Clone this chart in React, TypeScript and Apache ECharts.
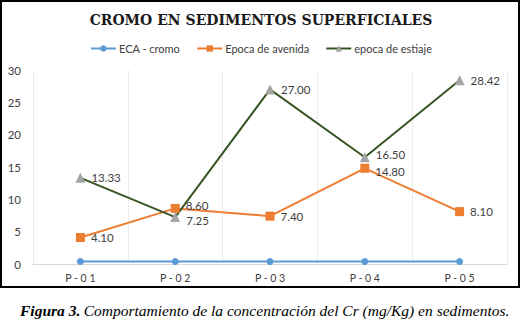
import React, { useEffect, useRef } from "react";
import * as echarts from "echarts";

const categories = ["P-01", "P-02", "P-03", "P-04", "P-05"];
const ecaValues = [0.4, 0.4, 0.4, 0.4, 0.4];
const avenidaValues = [4.1, 8.6, 7.4, 14.8, 8.1];
const estiajeValues = [13.33, 7.25, 27.0, 16.5, 28.42];
const yTicks = { min: 0, max: 30, interval: 5 };

// small vertical nudges for labels that sit next to each other
const avenidaLabelShift = [0, -3, 0, 3, 0];
const estiajeLabelShift = [0, 3, 0, -3, 0];

export default function App() {
  const ref = useRef<HTMLDivElement>(null);
  useEffect(() => {
    if (!ref.current) return;
    const chart = echarts.init(ref.current, null, { renderer: "svg" });
    const labelStyle = {
      show: true,
      position: "right" as const,
      distance: 6,
      color: "#404040",
      fontSize: 11.5,
      fontFamily: "Lato",
      formatter: (p: any) => Number(p.value).toFixed(2),
    };
    const withShift = (vals: number[], shifts: number[]) =>
      vals.map((v, i) => ({ value: v, label: { offset: [0, shifts[i]] } }));
    chart.setOption({
      animation: false,
      backgroundColor: "#ffffff",
      title: {
        text: "CROMO EN SEDIMENTOS SUPERFICIALES",
        left: "center",
        top: 8,
        textStyle: {
          fontFamily: "DejaVu Serif",
          fontWeight: "bold",
          fontSize: 14,
          color: "#1a1a1a",
        },
      },
      legend: {
        top: 38,
        left: "center",
        itemWidth: 25,
        itemHeight: 8,
        itemGap: 16,
        textStyle: { fontFamily: "Lato", fontSize: 11, color: "#404040", padding: [0, 0, 0, -2] },
        data: ["ECA - cromo", "Epoca de avenida", "epoca de estiaje"],
      },
      grid: { left: 33, right: 15, top: 70, bottom: 55, containLabel: false },
      xAxis: {
        type: "category",
        data: categories,
        boundaryGap: true,
        axisLine: { lineStyle: { color: "#d9d9d9" } },
        axisTick: { show: false },
        axisLabel: {
          color: "#404040",
          fontSize: 10.5,
          fontFamily: "Lato",
          margin: 8,
          formatter: (v: string) => v.split("").join(" "),
        },
        splitLine: {
          show: true,
          lineStyle: { color: "#d9d9d9", type: "dotted", width: 1 },
        },
      },
      yAxis: {
        type: "value",
        min: yTicks.min,
        max: yTicks.max,
        interval: yTicks.interval,
        axisLine: { show: false },
        axisTick: { show: false },
        splitLine: { show: false },
        axisLabel: { color: "#404040", fontSize: 11.5, fontFamily: "Lato", margin: 12 },
      },
      series: [
        {
          name: "ECA - cromo",
          type: "line",
          data: ecaValues,
          symbol: "circle",
          symbolSize: 7,
          itemStyle: { color: "#5b9bd5" },
          lineStyle: { color: "#5b9bd5", width: 2 },
        },
        {
          name: "Epoca de avenida",
          type: "line",
          data: withShift(avenidaValues, avenidaLabelShift),
          symbol: "rect",
          symbolSize: 9,
          itemStyle: { color: "#ed7d31" },
          lineStyle: { color: "#ed7d31", width: 2 },
          label: labelStyle,
        },
        {
          name: "epoca de estiaje",
          type: "line",
          data: withShift(estiajeValues, estiajeLabelShift),
          symbol: "triangle",
          symbolSize: 10,
          itemStyle: { color: "#a5a5a5" },
          lineStyle: { color: "#375623", width: 2 },
          label: labelStyle,
        },
      ],
      graphic: [
        {
          type: "rect",
          shape: { x: 1, y: 1, width: 518, height: 286 },
          style: { fill: "none", stroke: "#000", lineWidth: 2 },
          silent: true,
        },
        {
          type: "text",
          left: 20,
          top: 302,
          style: {
            text: "{b|Figura 3.} {n|Comportamiento de la concentración del Cr (mg/Kg) en sedimentos.}",
            rich: {
              b: {
                fontFamily: "Liberation Serif",
                fontStyle: "italic",
                fontWeight: "bold",
                fontSize: 15.5,
                fill: "#000",
              },
              n: {
                fontFamily: "Liberation Serif",
                fontStyle: "italic",
                fontSize: 15.5,
                fill: "#000",
              },
            },
          },
        },
      ],
    });
    return () => chart.dispose();
  }, []);
  return (
    <div
      ref={ref}
      style={{ position: "absolute", left: 0, top: 0, width: 522, height: 319 }}
    />
  );
}
